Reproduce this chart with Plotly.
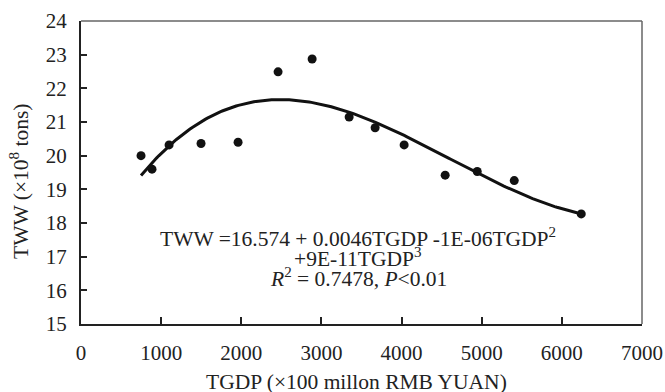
import numpy as np
import plotly.graph_objects as go

# Data
tgdp = [749, 886, 1099, 1498, 1960, 2459, 2884, 3346, 3670, 4032, 4544, 4944, 5406, 6242]
tww = [20.0, 19.6, 20.32, 20.36, 20.4, 22.49, 22.87, 21.15, 20.83, 20.32, 19.42, 19.53, 19.26, 18.27]

x_ticks = [0, 1000, 2000, 3000, 4000, 5000, 6000, 7000]
y_ticks = [15, 16, 17, 18, 19, 20, 21, 22, 23, 24]

# Cubic trendline fitted to the points
coef = np.polyfit(tgdp, tww, 3)
xf = np.linspace(min(tgdp), max(tgdp), 200)
yf = np.polyval(coef, xf)

FONT = "Liberation Serif"
FS = 21
fig = go.Figure()
fig.add_trace(go.Scatter(x=xf, y=yf, mode="lines",
                         line=dict(color="#111111", width=3), showlegend=False))
fig.add_trace(go.Scatter(x=tgdp, y=tww, mode="markers",
                         marker=dict(color="#111111", size=9), showlegend=False))

fig.update_layout(
    width=665, height=392,
    margin=dict(l=81, r=23, t=21, b=68),
    plot_bgcolor="white", paper_bgcolor="white",
    font=dict(family=FONT, size=FS, color="#222222"),
    xaxis=dict(range=[0, 7000], tickvals=x_ticks, ticks="inside", ticklen=7,
               tickwidth=1.5, tickcolor="#222", showline=True, linecolor="#222",
               linewidth=2, showgrid=False, zeroline=False, ticklabelstandoff=9,
               tickfont=dict(size=FS), automargin=False),
    yaxis=dict(range=[15, 24], tickvals=y_ticks, ticks="inside", ticklen=6,
               tickwidth=1.5, tickcolor="#222", showline=True, linecolor="#222",
               linewidth=2, showgrid=False, zeroline=False, ticklabelstandoff=8,
               tickfont=dict(size=FS), automargin=False),
    shapes=[
        dict(type="line", xref="paper", yref="paper", x0=0, x1=1, y0=1, y1=1,
             line=dict(color="#666666", width=1.5)),
        dict(type="line", xref="paper", yref="paper", x0=1, x1=1, y0=0, y1=1,
             line=dict(color="#666666", width=1.5)),
    ],
)

ann = dict(xref="paper", yref="paper", showarrow=False, xanchor="center",
           yanchor="middle", font=dict(family=FONT, size=21.5, color="#222222"))
fig.add_annotation(x=0.4938, y=0.284, text="TWW =16.574 + 0.0046TGDP -1E-06TGDP<sup>2</sup>", **ann)
fig.add_annotation(x=0.4938, y=0.218, text="+9E-11TGDP<sup>3</sup>", **ann)
fig.add_annotation(x=0.4938, y=0.155, text="<i>R</i><sup>2</sup> = 0.7478, <i>P</i>&lt;0.01", **ann)
fig.add_annotation(x=0.491, y=-0.19, text="TGDP (×100 millon RMB YUAN)", **ann)
fig.add_annotation(x=-0.1087, y=0.469, text="TWW (×10<sup>8</sup> tons)", textangle=-90, **ann)

fig.write_html("out.html", config={"displayModeBar": False},
               post_script="document.body.style.margin='0px';document.body.style.overflow='hidden';")
